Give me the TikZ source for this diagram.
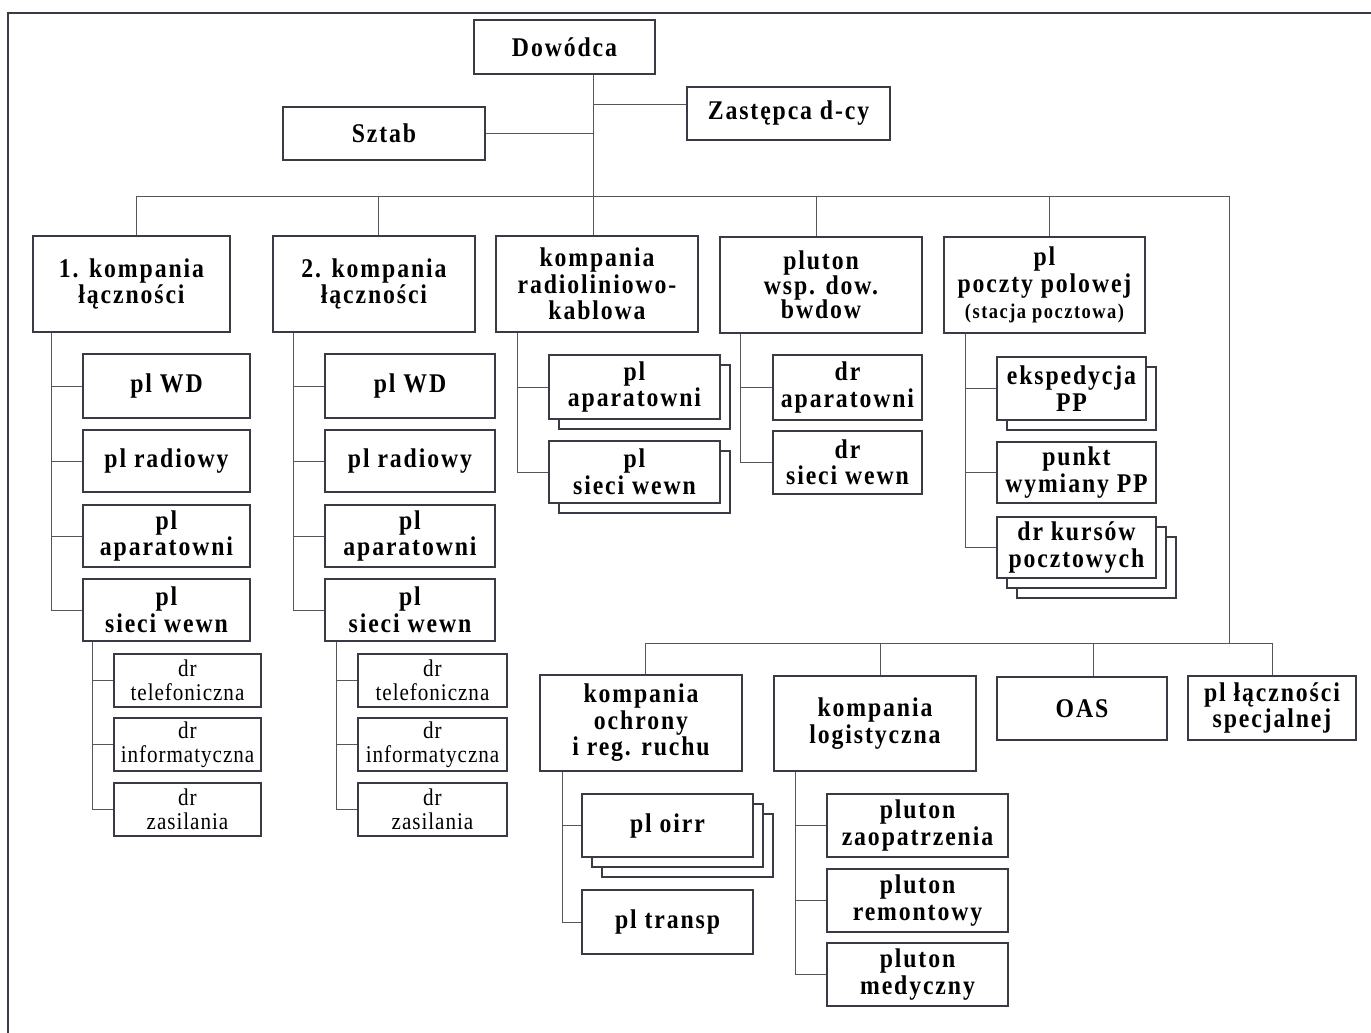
\documentclass[tikz,border=0pt]{standalone}
\usepackage{fontspec}
\setmainfont{Liberation Serif}
\newfontfamily\boxfont[LetterSpace=7,FakeStretch=0.88]{Liberation Serif}
\newfontfamily\smallfont[LetterSpace=4,FakeStretch=0.88]{Liberation Serif}
\usetikzlibrary{shadows}
\definecolor{ln}{HTML}{3A3A44}
\definecolor{cn}{HTML}{55555E}
\begin{document}
\begin{tikzpicture}[x=1pt,y=-1pt,
  box/.style={draw=ln, line width=1.1pt, fill=white, align=center, inner sep=0pt,
    font=\boxfont\bfseries\fontsize{27}{26.5}\selectfont},
  lbox/.style={draw=ln, line width=1.1pt, fill=white, align=center, inner sep=0pt,
    font=\smallfont\fontsize{24}{24}\selectfont},
  sz/.style 2 args={minimum width=#1pt, minimum height=#2pt},
  one/.style={copy shadow={shadow xshift=10pt, shadow yshift=-10pt, opacity=1, fill=white, draw=ln, line width=1.1pt}},
  two/.style={double copy shadow={shadow xshift=10pt, shadow yshift=-10pt, opacity=1, fill=white, draw=ln, line width=1.1pt}},
  con/.style={draw=cn, line width=0.9pt}]
\useasboundingbox (0,0) rectangle (1371,1033);
\begin{scope}
\clip (0,0) rectangle (1371,1033);
\draw[ln, line width=1.8pt] (8,13) rectangle (1400,1060);
\end{scope}

% top level
\node[box, sz={181}{54}] (dow) at (564.5,47) {Dowódca};
\node[box, sz={203}{53}] (zast) at (788.5,113.5) {Zastępca d-cy};
\node[box, sz={202}{53}] (sztab) at (384,133.5) {Sztab};

% second level
\node[box, sz={197}{96}] (k1) at (131.5,284) {1. kompania\\łączności};
\node[box, sz={202}{96}] (k2) at (374,284) {2. kompania\\łączności};
\node[box, sz={202}{96}] (k3) at (597,284) {kompania\\radioliniowo-\\kablowa};
\node[box, sz={202}{96}, font=\boxfont\bfseries\fontsize{27}{24.5}\selectfont] (p4) at (821,285) {pluton\\wsp. dow.\\bwdow};
\node[box, sz={201}{96}] (p5) at (1044.5,285) {pl\\poczty polowej\\{\fontsize{21}{20}\selectfont (stacja pocztowa)}};

% 1. kompania children
\node[box, sz={167}{64}] (a1) at (166.5,386) {pl WD};
\node[box, sz={167}{62}] (a2) at (166.5,461) {pl radiowy};
\node[box, sz={167}{62}] (a3) at (166.5,536) {pl\\aparatowni};
\node[box, sz={167}{62}] (a4) at (166.5,610) {pl\\sieci wewn};
\node[lbox, sz={147}{53}] (b1) at (187.5,680.5) {dr\\telefoniczna};
\node[lbox, sz={147}{53}] (b2) at (187.5,744.5) {dr\\informatyczna};
\node[lbox, sz={147}{53}] (b3) at (187.5,809.5) {dr\\zasilania};

% 2. kompania children
\node[box, sz={170}{64}] (m1) at (410,386) {pl WD};
\node[box, sz={170}{62}] (m2) at (410,461) {pl radiowy};
\node[box, sz={170}{62}] (m3) at (410,536) {pl\\aparatowni};
\node[box, sz={170}{62}] (m4) at (410,610) {pl\\sieci wewn};
\node[lbox, sz={149}{53}] (n1) at (432.5,680.5) {dr\\telefoniczna};
\node[lbox, sz={149}{53}] (n2) at (432.5,744.5) {dr\\informatyczna};
\node[lbox, sz={149}{53}] (n3) at (432.5,809.5) {dr\\zasilania};

% kompania radioliniowo-kablowa children
\node[box, one, sz={171}{64}] (c1) at (634.5,387) {pl\\aparatowni};
\node[box, one, sz={171}{62}] (c2) at (634.5,472) {pl\\sieci wewn};

% pluton children
\node[box, sz={149}{65}] (d1) at (847.5,387.5) {dr\\aparatowni};
\node[box, sz={149}{63}] (d2) at (847.5,462.5) {dr\\sieci wewn};

% pl poczty children
\node[box, one, sz={149}{63}] (e1) at (1071.5,388.5) {ekspedycja\\PP};
\node[box, sz={159}{61}] (e2) at (1076.5,472.5) {punkt\\wymiany PP};
\node[box, two, sz={159}{61}] (e3) at (1076.5,547.5) {dr kursów\\pocztowych};

% lower level
\node[box, sz={202}{96}] (och) at (641,723) {kompania\\ochrony\\i reg. ruchu};
\node[box, sz={202}{95}] (log) at (875,723.5) {kompania\\logistyczna};
\node[box, sz={170}{63}] (oas) at (1082,708.5) {OAS};
\node[box, sz={168}{64}] (plc) at (1272,708) {pl łączności\\specjalnej};

\node[box, two, sz={171}{63}] (f1) at (667.5,825.5) {pl oirr};
\node[box, sz={171}{64}] (f2) at (667.5,922) {pl transp};

\node[box, sz={181}{63}] (g1) at (917.5,825.5) {pluton\\zaopatrzenia};
\node[box, sz={181}{63}] (g2) at (917.5,900.5) {pluton\\remontowy};
\node[box, sz={181}{63}] (g3) at (917.5,974.5) {pluton\\medyczny};

% connectors: top
\coordinate (t) at (593,196);
\coordinate (rb) at (1229,196);
\coordinate (lb) at (1229,643);
\draw[con] ([xshift=28.5pt]dow.south) -- (t);
\draw[con] (t |- sztab.east) -- (sztab.east);
\draw[con] (t |- zast.west) ++(0,-9) -- ([yshift=9pt]zast.west);
\draw[con] ([xshift=4.5pt]k1.north) |- (rb);
\draw[con] ([xshift=4pt]k2.north) -- ([xshift=4pt]k2.north |- t);
\draw[con] (t) -- (t |- k3.north);
\draw[con] ([xshift=-5pt]p4.north) -- ([xshift=-5pt]p4.north |- t);
\draw[con] ([xshift=4.5pt]p5.north) -- ([xshift=4.5pt]p5.north |- t);
\draw[con] (rb) -- (lb);
\draw[con] ([xshift=4pt]och.north) |- ([xshift=43pt]lb);
\draw[con] ([xshift=5pt]log.north) -- ([xshift=5pt]log.north |- lb);
\draw[con] ([xshift=11pt]oas.north) -- ([xshift=11pt]oas.north |- lb);
\draw[con] (plc.north) -- (plc.north |- lb);

% 1. kompania
\foreach \c in {a1,a2,a3,a4}
  \draw[con] ([xshift=19pt]k1.south west) |- (\c.west);
\foreach \c in {b1,b2,b3}
  \draw[con] ([xshift=10pt]a4.south west) |- (\c.west);
% 2. kompania
\foreach \c in {m1,m2,m3,m4}
  \draw[con] ([xshift=21pt]k2.south west) |- (\c.west);
\foreach \c in {n1,n2,n3}
  \draw[con] ([xshift=12pt]m4.south west) |- (\c.west);
% kompania radioliniowo-kablowa
\foreach \c in {c1,c2}
  \draw[con] ([xshift=22pt]k3.south west) |- (\c.west);
% pluton
\foreach \c in {d1,d2}
  \draw[con] ([xshift=21pt]p4.south west) |- (\c.west);
% pl poczty
\foreach \c in {e1,e2,e3}
  \draw[con] ([xshift=22pt]p5.south west) |- (\c.west);
% ochrony
\foreach \c in {f1,f2}
  \draw[con] ([xshift=23pt]och.south west) |- (\c.west);
% logistyczna
\foreach \c in {g1,g2,g3}
  \draw[con] ([xshift=22pt]log.south west) |- (\c.west);
\end{tikzpicture}
\end{document}
